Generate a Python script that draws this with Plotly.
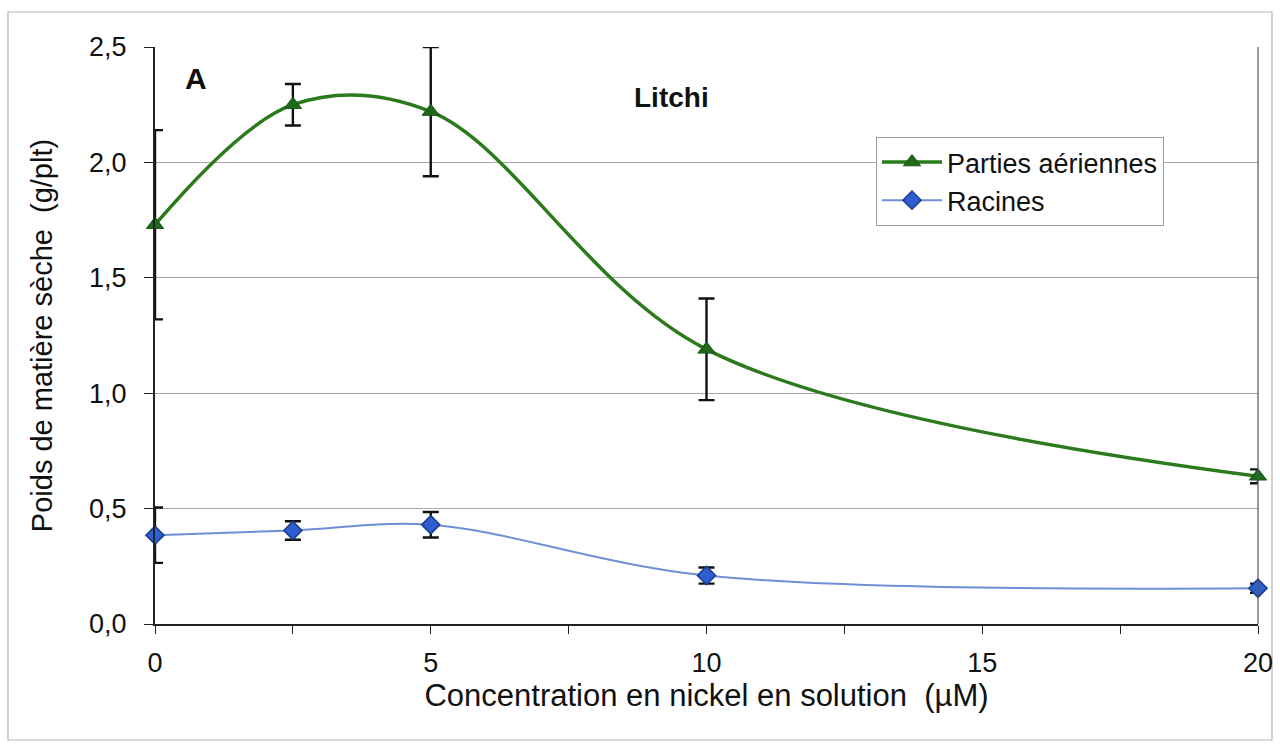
import plotly.graph_objects as go

x_vals = [0, 2.5, 5, 10, 20]
aeriennes = [1.73, 2.25, 2.22, 1.19, 0.64]
aeriennes_err = [0.41, 0.09, 0.28, 0.22, 0.03]
racines = [0.385, 0.405, 0.43, 0.21, 0.155]
racines_err = [0.12, 0.04, 0.055, 0.035, 0.02]

x_ticks = [0, 5, 10, 15, 20]
y_ticks = [0, 0.5, 1.0, 1.5, 2.0, 2.5]

font_family = "Liberation Sans, Arial, sans-serif"

# plot area in pixels (for placing the outer frame)
L, R, T, B = 155, 1258, 47, 624
W, H = R - L, B - T


def px_x(p):
    return (p - L) / W


def px_y(p):
    return (B - p) / H


fig = go.Figure()
fig.add_trace(go.Scatter(
    x=x_vals, y=aeriennes, name="Parties aériennes", mode="lines+markers",
    line=dict(color="#2b7a1c", width=3.5, shape="spline", smoothing=1.0),
    marker=dict(symbol="triangle-up", size=15, color="#1f6a1a", line=dict(color="#17531a", width=1)),
    error_y=dict(type="data", array=aeriennes_err, visible=True, color="#111111", thickness=2.4, width=8),
    cliponaxis=False,
))
fig.add_trace(go.Scatter(
    x=x_vals, y=racines, name="Racines", mode="lines+markers",
    line=dict(color="#6f90d6", width=2, shape="spline", smoothing=1.0),
    marker=dict(symbol="diamond", size=14, color="#2e5fd0", line=dict(color="#1c3c8c", width=1.5)),
    error_y=dict(type="data", array=racines_err, visible=True, color="#111111", thickness=2.4, width=8),
    cliponaxis=False,
))

fig.update_layout(
    width=1280, height=748,
    margin=dict(l=L, r=1280 - R, t=T, b=748 - B, autoexpand=False),
    paper_bgcolor="white", plot_bgcolor="white",
    separators=", ",
    font=dict(family=font_family, size=27, color="#111111"),
    showlegend=True,
    legend=dict(
        x=px_x(876), y=px_y(137), xanchor="left", yanchor="top",
        bgcolor="white", bordercolor="#9a9a9a", borderwidth=1,
        font=dict(size=27, family=font_family, color="#111111"),
        itemwidth=60, tracegroupgap=2,
    ),
    xaxis=dict(
        range=[0, 20], tickvals=x_ticks, ticktext=[str(v) for v in x_ticks],
        automargin=False,
        showgrid=False, zeroline=False,
        showline=True, linecolor="#222222", linewidth=2,
        ticks="outside", ticklen=8, tickcolor="#222222", tickwidth=1,
        minor=dict(dtick=2.5, tick0=0, ticks="outside", ticklen=8, tickcolor="#222222", showgrid=False),
        tickfont=dict(size=27, family=font_family, color="#111111"),
        ticklabelstandoff=6,
        title=dict(text="Concentration en nickel en solution  (µM)", standoff=2,
                   font=dict(size=31, family=font_family, color="#111111")),
    ),
    yaxis=dict(
        range=[0, 2.5], tickvals=y_ticks, tickformat=".1f",
        automargin=False,
        showgrid=True, gridcolor="#a8a8a8", gridwidth=1.2,
        zeroline=False,
        showline=True, linecolor="#222222", linewidth=2,
        ticks="outside", ticklen=9, tickcolor="#222222", tickwidth=1,
        tickfont=dict(size=27, family=font_family, color="#111111"),
        ticklabelstandoff=12,
        title=dict(text="Poids de matière sèche  (g/plt)", standoff=28,
                   font=dict(size=29, family=font_family, color="#111111")),
    ),
    annotations=[
        dict(text="<b>A</b>", x=px_x(196), y=px_y(78), xref="paper", yref="paper",
             showarrow=False, xanchor="center", yanchor="middle",
             font=dict(size=30, family=font_family, color="#111111")),
        dict(text="<b>Litchi</b>", x=px_x(671), y=px_y(97), xref="paper", yref="paper",
             showarrow=False, xanchor="center", yanchor="middle",
             font=dict(size=28, family=font_family, color="#111111")),
    ],
    shapes=[
        dict(type="rect", xref="paper", yref="paper",
             x0=px_x(8), x1=px_x(1272), y0=px_y(740), y1=px_y(12),
             line=dict(color="#b4b4b4", width=1.2), layer="below"),
        dict(type="line", xref="paper", yref="paper", x0=1, x1=1, y0=0, y1=1,
             line=dict(color="#555555", width=1.2)),
    ],
)

fig.write_html("out.html")
